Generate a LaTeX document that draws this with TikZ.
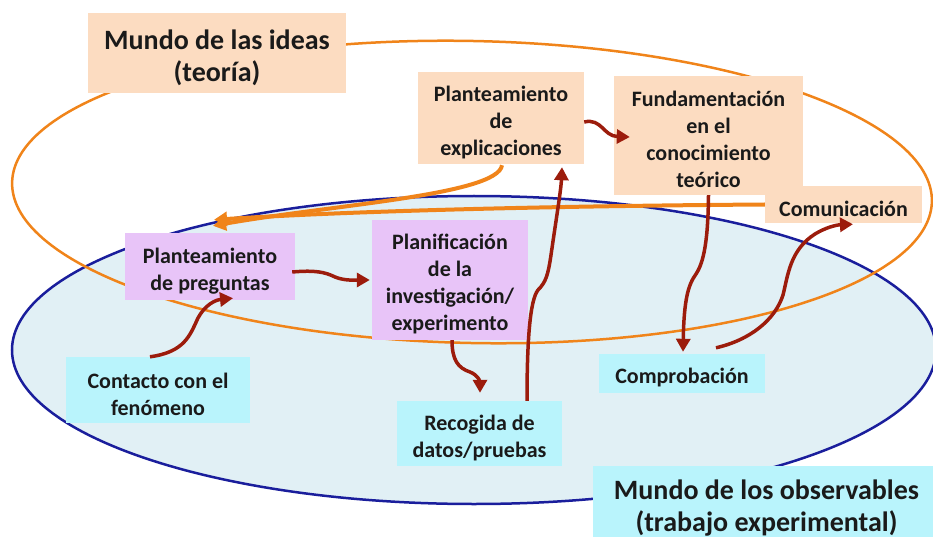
\documentclass[tikz,border=0pt]{standalone}
\usepackage{fontspec}
\setmainfont{Carlito}
\usetikzlibrary{arrows.meta,calc}
\definecolor{peach}{HTML}{FCDCC1}
\definecolor{lilac}{HTML}{E8C4F8}
\definecolor{cyanbox}{HTML}{B9F4FC}
\definecolor{skyfill}{HTML}{E1F0F5}
\definecolor{navy}{HTML}{1A1E9C}
\definecolor{orng}{HTML}{F0841A}
\definecolor{darkred}{HTML}{9C1C0C}
\definecolor{txt}{HTML}{1A1A1A}
\newcommand{\tpstrut}{\rule{0pt}{24pt}}
\newcommand{\ttstrut}{\rule{0pt}{29pt}}
\begin{document}
\begin{tikzpicture}[x=1pt,y=-1pt,
  box/.style={inner sep=0pt, align=center, text=txt, font=\bfseries\fontsize{22}{27}\selectfont},
  peachbox/.style={box, fill=peach},
  lilacbox/.style={box, fill=lilac},
  cyanbx/.style={box, fill=cyanbox},
  titlefont/.style={font=\bfseries\fontsize{28}{32}\selectfont},
  redarr/.style={draw=darkred, line width=3.5pt, -{Triangle[length=13pt,width=14pt]}},
  orarr/.style={draw=orng, line width=4pt, -{Triangle[length=13pt,width=14pt]}}
]
\useasboundingbox (0,0) rectangle (933,537);
\clip (0,0) rectangle (933,537);
% worlds
\draw[navy, line width=2.5pt, fill=skyfill] (474,350) ellipse [x radius=462pt, y radius=154pt];
\draw[orng, line width=2.5pt, rotate around={-1.2:(472,192)}] (472,192) ellipse [x radius=460pt, y radius=151pt];
% boxes
\node[peachbox, titlefont, minimum width=258pt, minimum height=80pt] (ideas) at (217,53) {\ttstrut Mundo de las ideas\\(teoría)};
\node[cyanbx, titlefont, minimum width=347pt, minimum height=84pt] (obs) at (766.5,508) {Mundo de los observables\\(trabajo experimental)};
\node[peachbox, minimum width=166pt, minimum height=92pt] (expl) at (501,118) {\tpstrut Planteamiento\\de\\explicaciones};
\node[peachbox, minimum width=189pt, minimum height=119pt] (fund) at (708.5,135.5) {\tpstrut Fundamentación\\en el\\conocimiento\\teórico};
\node[peachbox, minimum width=157pt, minimum height=37pt] (comu) at (843.5,204.5) {\tpstrut Comunicación};
\node[lilacbox, minimum width=170pt, minimum height=67pt] (preg) at (210,266.5) {\tpstrut Planteamiento\\de preguntas};
\node[lilacbox, minimum width=156pt, minimum height=120pt] (plan) at (450,280) {\tpstrut Planificación\\de la\\investigación/\\experimento};
\node[cyanbx, minimum width=184pt, minimum height=66pt] (cont) at (158,390) {\tpstrut Contacto con el\\fenómeno};
\node[cyanbx, minimum width=165pt, minimum height=65pt] (reco) at (479.5,433.5) {\tpstrut Recogida de\\datos/pruebas};
\node[cyanbx, minimum width=166pt, minimum height=39pt] (comp) at (682,373.5) {\tpstrut Comprobación};
% orange arrows
\draw[orarr] (comu.west) .. controls (550,206) and (350,211) .. ($(preg.north)+(4,-13)$);
\draw[orarr] ($(expl.south)+(1,1)$) .. controls (498,195) and (330,205) .. ($(preg.north)+(3,-7)$);
% red arrows
\draw[redarr] ($(expl.east)+(0,4)$) .. controls (602,118) and (603,136) .. ($(fund.west)+(16,1.5)$);
\draw[redarr] ($(cont.north)+(-8,0)$) .. controls (185,352) and (190,335) .. (198,318) .. controls (205,305) and (215,300) .. ($(preg.south)+(23,-2)$);
\draw[redarr] ($(preg.east)+(-3,5.5)$) .. controls (315,270) and (325,272) .. (335,277) .. controls (345,281) and (355,280) .. ($(plan.west)+(-2,0)$);
\draw[redarr] ($(plan.south)+(2,0)$) .. controls (452,360) and (458,368) .. (470,372) .. controls (478,375) and (480,382) .. ($(reco.north)+(0.5,-8)$);
\draw[redarr] ($(reco.north)+(47.5,0)$) .. controls (527,340) and (530,300) .. (538,290) .. controls (546,282) and (548,275) .. (551,255) .. controls (556,220) and (561,190) .. ($(expl.south)+(61,3)$);
\draw[redarr] (fund.south) .. controls (708,240) and (704,262) .. (696,274) .. controls (688,285) and (684,300) .. ($(comp.north)+(1,-2)$);
\draw[redarr] ($(comp.north)+(34,-6)$) .. controls (750,340) and (775,320) .. (783,295) .. controls (788,275) and (790,250) .. (815,234) .. controls (825,228) and (835,225) .. ($(comu.south)+(9.5,1)$);
\end{tikzpicture}
\end{document}
